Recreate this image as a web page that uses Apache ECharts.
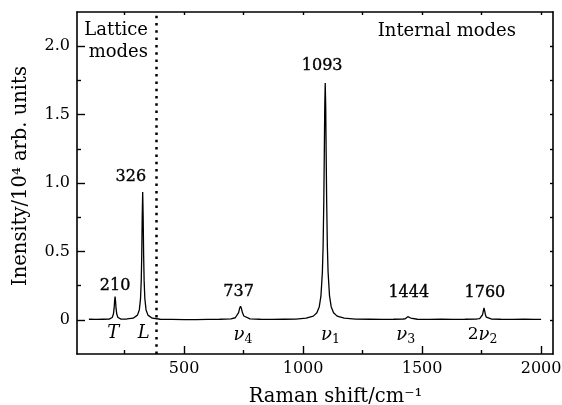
<!DOCTYPE html>
<html>
<head>
<meta charset="utf-8">
<script src="https://cdn.jsdelivr.net/npm/echarts@6/dist/echarts.min.js"></script>
<style>html,body{margin:0;padding:0;background:#fff}#c{width:562px;height:405px}</style>
</head>
<body>
<div id="c"></div>
<script>
// Spectrum (Raman shift in cm^-1, intensity in 10^4 arb. units)
var ramanShift = [100,130,160,185,198,203,206,208,210,212,214,217,222,235,260,286,304,312,317,320,322,324,326,328,330,332,335,340,348,366,400,450,500,550,600,650,697,715,723,729,733,737,741,745,751,759,777,820,870,920,970,1013,1043,1058,1068,1075,1081,1084,1087,1089,1091,1093,1095,1097,1099,1102,1105,1111,1118,1128,1143,1173,1220,1280,1330,1380,1420,1429,1436,1440,1444,1448,1452,1459,1480,1530,1580,1630,1680,1730,1742,1750,1754,1757,1760,1763,1766,1770,1778,1790,1830,1880,1930,1970,2000];
var intensity = [0.004,0.003,0.004,0.005,0.017,0.042,0.085,0.136,0.170,0.136,0.085,0.042,0.017,0.005,0.006,0.012,0.034,0.074,0.157,0.290,0.470,0.750,0.935,0.750,0.470,0.290,0.157,0.074,0.034,0.012,0.004,0.003,0.002,0.002,0.003,0.004,0.007,0.015,0.028,0.053,0.082,0.100,0.082,0.053,0.028,0.015,0.007,0.004,0.003,0.004,0.005,0.012,0.027,0.051,0.096,0.175,0.348,0.534,0.867,1.200,1.559,1.730,1.559,1.200,0.867,0.534,0.348,0.175,0.096,0.051,0.027,0.012,0.005,0.004,0.003,0.004,0.006,0.007,0.013,0.023,0.037,0.023,0.013,0.007,0.004,0.003,0.004,0.003,0.004,0.006,0.009,0.019,0.037,0.064,0.087,0.064,0.037,0.019,0.009,0.006,0.004,0.003,0.004,0.003,0.003];

// Peak labels
var peakText = ['210','326','737','1093','1444','1760'];
var peakLabelX = [210,276,729,1080,1444,1764];
var peakLabelY = [0.25,1.045,0.205,1.857,0.195,0.195];

// Mode labels under peaks
var modeText = ['{i|T}','{i|L}','{i|ν}{s|4}','{i|ν}{s|1}','{i|ν}{s|3}','{n|2}{i|ν}{s|2}'];
var modeLabelX = [202,330,747,1115,1431,1754];
var modeLabelY = [-0.1,-0.1,-0.11,-0.11,-0.11,-0.11];

// Region separator
var separatorX = 383;

// Axis ticks
var xMajorTicks = [500,1000,1500,2000];
var xMinorTicks = [250,750,1250,1750];
var yMajorTicks = [0,0.5,1,1.5,2];
var yMinorTicks = [0.25,0.75,1.25,1.75];
var xRange = [50,2050];
var yRange = [-0.25,2.25];

var FONT = 'DejaVu Serif';
var INK = '#000';

var chart = echarts.init(document.getElementById('c'), null, {renderer:'canvas'});

function pts(xs, ys){ return xs.map(function(x,i){ return [x, ys[i]]; }); }
function lbl(xs, ys, ts){ return xs.map(function(x,i){ return [x, ys[i], ts[i]]; }); }

var lineStyleAxis = {color: INK, width: 1.6};

var option = {
  animation: false,
  backgroundColor: '#fff',
  grid: {left: 77, right: 9, top: 12, bottom: 51, containLabel: false, outerBoundsMode: 'none'},
  xAxis: [
    {type:'value', position:'bottom', min:xRange[0], max:xRange[1],
     name:'Raman shift/cm⁻¹', nameLocation:'middle', nameGap:33,
     nameTextStyle:{fontFamily:FONT, fontSize:19.5, color:INK, padding:[0,0,0,41]},
     axisLine:{show:true, onZero:false, lineStyle:lineStyleAxis},
     axisTick:{show:true, inside:true, length:8, lineStyle:{color:INK, width:1.4}, customValues:xMajorTicks},
     axisLabel:{show:true, margin:7, fontFamily:FONT, fontSize:16, color:INK, customValues:xMajorTicks,
       formatter:function(v){ return String(v); }},
     splitLine:{show:false}},
    {type:'value', position:'bottom', min:xRange[0], max:xRange[1],
     axisLine:{show:false, onZero:false},
     axisTick:{show:true, inside:true, length:4, lineStyle:{color:INK, width:1.4}, customValues:xMinorTicks},
     axisLabel:{show:false}, splitLine:{show:false}},
    {type:'value', position:'top', min:xRange[0], max:xRange[1],
     axisLine:{show:true, onZero:false, lineStyle:lineStyleAxis},
     axisTick:{show:true, inside:true, length:3, lineStyle:{color:INK, width:1.4}, customValues:xMajorTicks.concat(xMinorTicks)},
     axisLabel:{show:false}, splitLine:{show:false}}
  ],
  yAxis: [
    {type:'value', position:'left', min:yRange[0], max:yRange[1],
     name:'Inensity/10⁴ arb. units', nameLocation:'middle', nameGap:46,
     nameTextStyle:{fontFamily:FONT, fontSize:19.5, color:INK, padding:[0,0,0,14]},
     axisLine:{show:true, onZero:false, lineStyle:lineStyleAxis},
     axisTick:{show:true, inside:true, length:8, lineStyle:{color:INK, width:1.4}, customValues:yMajorTicks},
     axisLabel:{show:true, margin:7, fontFamily:FONT, fontSize:16, color:INK, customValues:yMajorTicks,
       formatter:function(v){ return v===0 ? '0' : v.toFixed(1); }},
     splitLine:{show:false}},
    {type:'value', position:'left', min:yRange[0], max:yRange[1],
     axisLine:{show:false, onZero:false},
     axisTick:{show:true, inside:true, length:4, lineStyle:{color:INK, width:1.4}, customValues:yMinorTicks},
     axisLabel:{show:false}, splitLine:{show:false}},
    {type:'value', position:'right', min:yRange[0], max:yRange[1],
     axisLine:{show:true, onZero:false, lineStyle:lineStyleAxis},
     axisTick:{show:true, inside:true, length:3, lineStyle:{color:INK, width:1.4}, customValues:yMajorTicks.concat(yMinorTicks)},
     axisLabel:{show:false}, splitLine:{show:false}}
  ],
  series: [
    {type:'line', xAxisIndex:0, yAxisIndex:0, data:pts(ramanShift, intensity),
     showSymbol:false, symbol:'none', smooth:false,
     lineStyle:{color:INK, width:1.3},
     markLine:{silent:true, symbol:'none', label:{show:false},
       lineStyle:{color:INK, type:[2.5,4.8], width:2.5},
       data:[{xAxis:separatorX}]}},
    {type:'scatter', xAxisIndex:0, yAxisIndex:0, symbolSize:0, silent:true,
     itemStyle:{color:INK, opacity:1},
     data:lbl(peakLabelX, peakLabelY, peakText),
     label:{show:true, position:[0,0], align:'center', verticalAlign:'middle',
       fontFamily:FONT, fontSize:16, color:INK, opacity:1, textBorderColor:INK, textBorderWidth:0.35,
       formatter:function(p){ return p.data[2]; }}},
    {type:'scatter', xAxisIndex:0, yAxisIndex:0, symbolSize:0, silent:true,
     itemStyle:{color:INK, opacity:1},
     data:lbl(modeLabelX, modeLabelY, modeText),
     label:{show:true, position:[0,0], align:'center', verticalAlign:'middle',
       fontFamily:FONT, fontSize:17, color:INK, opacity:1, textBorderWidth:0,
       formatter:function(p){ return p.data[2]; },
       rich:{
         i:{fontFamily:FONT, fontSize:18, fontStyle:'italic', color:INK, textBorderWidth:0},
         n:{fontFamily:FONT, fontSize:17, color:INK, textBorderWidth:0},
         s:{fontFamily:FONT, fontSize:12.5, color:INK, textBorderWidth:0, padding:[10,0,0,0]}
       }}}
  ],
  graphic: [
    {type:'text', right:562-148, top:21, style:{text:'Lattice', font:'18px "DejaVu Serif"', fill:INK, textAlign:'right'}},
    {type:'text', right:562-148, top:43, style:{text:'modes', font:'18px "DejaVu Serif"', fill:INK, textAlign:'right'}},
    {type:'text', right:562-516, top:22, style:{text:'Internal modes', font:'18px "DejaVu Serif"', fill:INK, textAlign:'right'}}
  ]
};
chart.setOption(option);
</script>
</body>
</html>
